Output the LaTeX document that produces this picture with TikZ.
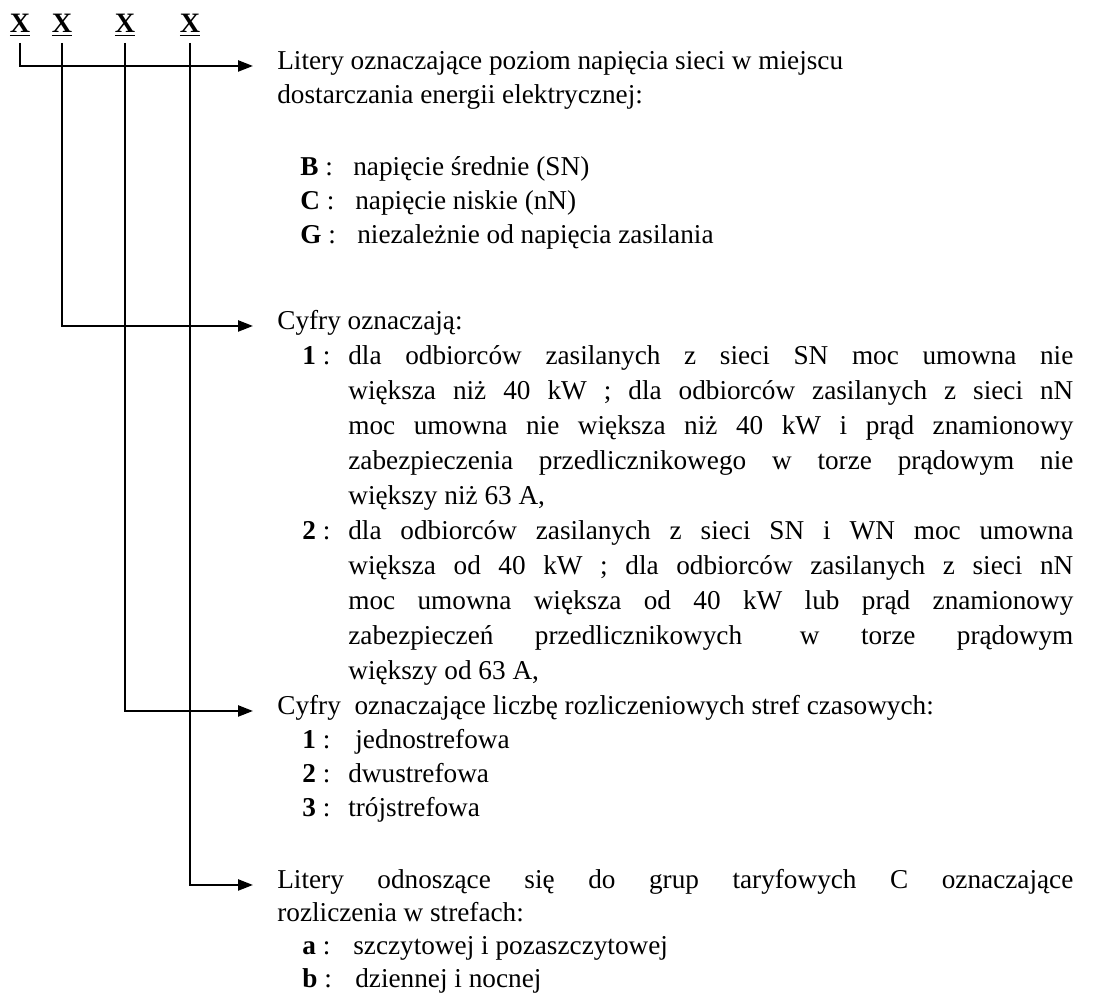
\documentclass[tikz,border=0pt]{standalone}
\usepackage{fontspec}
\setmainfont{Liberation Serif}
\usepackage{tikz}
\usetikzlibrary{arrows.meta}

\tikzset{
  txt/.style={anchor=west, inner sep=0pt, text height=0.7em, text depth=0.25em},
  code/.style={anchor=base, inner sep=0pt, font=\fontsize{16}{18}\selectfont\bfseries},
  conn/.style={line width=1.3pt, shorten <=0.12cm, shorten >=0.48cm,
    -{Triangle[length=0.3cm,width=0.22cm]}},
}
\newcommand\fullline[2]{\makebox[#1][s]{#2}}

\begin{document}
\begin{tikzpicture}[font={\fontsize{15.5}{18}\selectfont}]
\useasboundingbox (0,0) rectangle (22.04,20.04);
\node[code] (x1) at (0.4, 19.38) {\underline{X}}; % poziom napiecia
\node[code] (x2) at (1.24, 19.38) {\underline{X}}; % moc
\node[code] (x3) at (2.5, 19.38) {\underline{X}}; % strefy
\node[code] (x4) at (3.8, 19.38) {\underline{X}}; % rozliczenia
% pierwsza litera
\node[txt] (lit) at (5.54, 18.72) {Litery oznaczające poziom napięcia sieci w miejscu};
\node[txt] (dost) at (5.54, 18.04) {dostarczania energii elektrycznej:};
\node[txt] (kB) at (6.0, 16.6) {\textbf{B} :}; \node[txt] (tB) at (7.06, 16.6) {napięcie średnie (SN)};
\node[txt] (kC) at (6.0, 15.92) {\textbf{C} :}; \node[txt] (tC) at (7.1, 15.92) {napięcie niskie (nN)};
\node[txt] (kG) at (6.0, 15.24) {\textbf{G} :}; \node[txt] (tG) at (7.14, 15.24) {niezależnie od napięcia zasilania};
% cyfry - moc
\node[txt] (cyf) at (5.54, 13.52) {Cyfry oznaczają:};
\node[txt] (k1) at (6.04, 12.82) {\textbf{1} :};
\node[txt] (m1a) at (6.96, 12.82) {\fullline{14.5cm}{dla odbiorców zasilanych z sieci SN moc umowna nie}};
\node[txt] (m1b) at (6.96, 12.12) {\fullline{14.5cm}{większa niż 40 kW ; dla odbiorców zasilanych z sieci nN}};
\node[txt] (m1c) at (6.96, 11.42) {\fullline{14.5cm}{moc umowna nie większa niż 40 kW i prąd znamionowy}};
\node[txt] (m1d) at (6.96, 10.72) {\fullline{14.5cm}{zabezpieczenia przedlicznikowego w torze prądowym nie}};
\node[txt] (m1e) at (6.96, 10.02) {większy niż 63 A,};
\node[txt] (k2) at (6.04, 9.32) {\textbf{2} :};
\node[txt] (m2a) at (6.96, 9.32) {\fullline{14.5cm}{dla odbiorców zasilanych z sieci SN i WN moc umowna}};
\node[txt] (m2b) at (6.96, 8.62) {\fullline{14.5cm}{większa od 40 kW ; dla odbiorców zasilanych z sieci nN}};
\node[txt] (m2c) at (6.96, 7.92) {\fullline{14.5cm}{moc umowna większa od 40 kW lub prąd znamionowy}};
\node[txt] (m2d) at (6.96, 7.22) {\fullline{14.5cm}{zabezpieczeń przedlicznikowych\hspace{0.6em} w torze prądowym}};
\node[txt] (m2e) at (6.96, 6.52) {większy od 63 A,};
% strefy czasowe
\node[txt] (str) at (5.54, 5.82) {Cyfry\ \ oznaczające liczbę rozliczeniowych stref czasowych:};
\node[txt] (ks1) at (6.04, 5.14) {\textbf{1} :}; \node[txt] (ts1) at (7.1, 5.14) {jednostrefowa};
\node[txt] (ks2) at (6.04, 4.46) {\textbf{2} :}; \node[txt] (ts2) at (6.96, 4.46) {dwustrefowa};
\node[txt] (ks3) at (6.04, 3.78) {\textbf{3} :}; \node[txt] (ts3) at (6.96, 3.78) {trójstrefowa};
% grupy taryfowe C
\node[txt] (tar) at (5.54, 2.34) {\fullline{15.92cm}{Litery odnoszące się do grup taryfowych C oznaczające}};
\node[txt] (roz) at (5.54, 1.68) {rozliczenia w strefach:};
\node[txt] (ka) at (6.04, 1.02) {\textbf{a} :}; \node[txt] (ta) at (7.06, 1.02) {szczytowej i pozaszczytowej};
\node[txt] (kb) at (6.04, 0.36) {\textbf{b} :}; \node[txt] (tb) at (7.1, 0.36) {dziennej i nocnej};
% strzalki
\draw[conn] (x1.south) |- (lit.west); % x1
\draw[conn] (x2.south) |- (cyf.west); % x2
\draw[conn] (x3.south) |- (str.west); % x3
\draw[conn] (x4.south) |- (tar.west); % x4
\end{tikzpicture}
\end{document}
